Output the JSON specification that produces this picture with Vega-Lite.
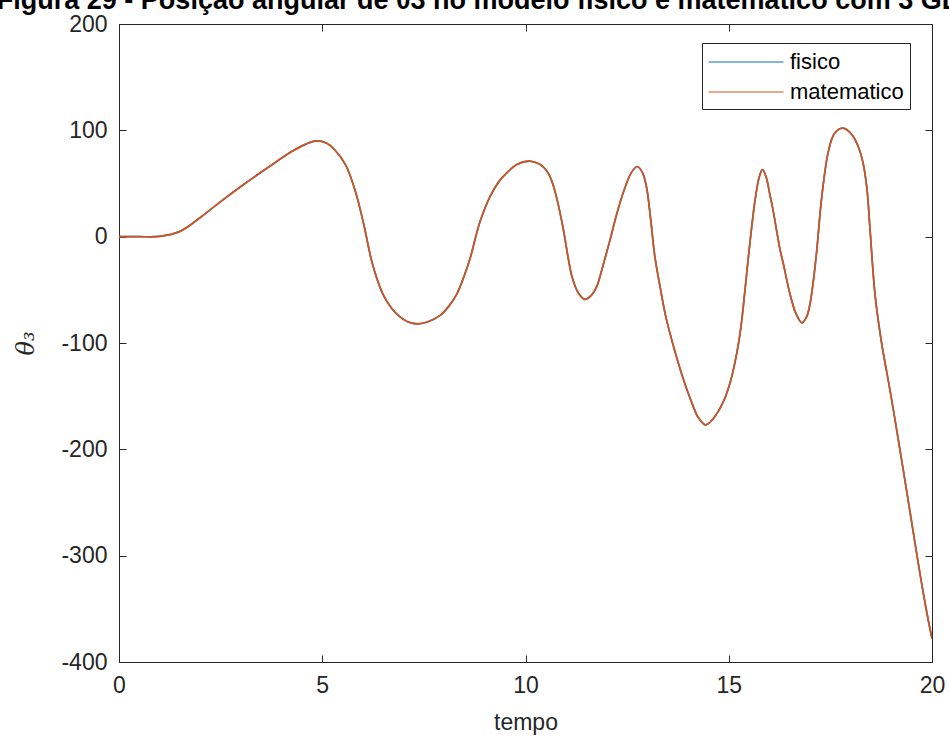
{
  "$schema": "https://vega.github.io/schema/vega-lite/v6.json",
  "width": 813,
  "height": 638,
  "autosize": {"type": "none"},
  "padding": {"left": 119, "top": 24, "right": 17, "bottom": 78},
  "background": "white",
  "config": {
    "view": {"stroke": null},
    "font": "Liberation Sans",
    "axis": {"grid": false, "domainColor": "#262626", "tickColor": "#262626", "labelColor": "#262626", "titleColor": "#262626", "labelFont": "Liberation Sans", "titleFont": "Liberation Sans", "labelFontSize": 23, "titleFontSize": 23, "titleFontWeight": "normal", "tickSize": -7, "domainWidth": 1, "tickWidth": 1, "labelExpr": "toString(datum.value)"}
  },
  "title": {
    "text": "Figura 29 - Posição angular de θ3 no modelo físico e matemático com 3 GL",
    "font": "Liberation Sans",
    "fontSize": 27,
    "fontWeight": "bold",
    "color": "#000000",
    "anchor": "middle",
    "baseline": "alphabetic",
    "offset": -23,
    "dx": -48
  },
  "data": {
    "values": [
      {"t": 0, "fisico": 0, "matematico": 0},
      {"t": 0.5, "fisico": 0, "matematico": 0},
      {"t": 1.0, "fisico": 0.3, "matematico": 0.3},
      {"t": 1.5, "fisico": 5, "matematico": 5},
      {"t": 2.0, "fisico": 18, "matematico": 18},
      {"t": 2.5, "fisico": 33, "matematico": 33},
      {"t": 3.1, "fisico": 50, "matematico": 50},
      {"t": 3.7, "fisico": 66, "matematico": 66},
      {"t": 4.25, "fisico": 80, "matematico": 80},
      {"t": 4.6, "fisico": 87, "matematico": 87},
      {"t": 4.85, "fisico": 90, "matematico": 90},
      {"t": 5.1, "fisico": 88, "matematico": 88},
      {"t": 5.3, "fisico": 82, "matematico": 82},
      {"t": 5.58, "fisico": 67, "matematico": 67},
      {"t": 5.82, "fisico": 42, "matematico": 42},
      {"t": 6.03, "fisico": 10, "matematico": 10},
      {"t": 6.23, "fisico": -25, "matematico": -25},
      {"t": 6.48, "fisico": -53, "matematico": -53},
      {"t": 6.7, "fisico": -67, "matematico": -67},
      {"t": 6.9, "fisico": -75, "matematico": -75},
      {"t": 7.1, "fisico": -80, "matematico": -80},
      {"t": 7.36, "fisico": -82, "matematico": -82},
      {"t": 7.6, "fisico": -80, "matematico": -80},
      {"t": 7.9, "fisico": -74, "matematico": -74},
      {"t": 8.1, "fisico": -66, "matematico": -66},
      {"t": 8.31, "fisico": -54, "matematico": -54},
      {"t": 8.5, "fisico": -36, "matematico": -36},
      {"t": 8.64, "fisico": -20, "matematico": -20},
      {"t": 8.88, "fisico": 14, "matematico": 14},
      {"t": 9.13, "fisico": 38, "matematico": 38},
      {"t": 9.35, "fisico": 52, "matematico": 52},
      {"t": 9.54, "fisico": 60, "matematico": 60},
      {"t": 9.8, "fisico": 68, "matematico": 68},
      {"t": 10.1, "fisico": 71, "matematico": 71},
      {"t": 10.35, "fisico": 68, "matematico": 68},
      {"t": 10.52, "fisico": 62, "matematico": 62},
      {"t": 10.65, "fisico": 52, "matematico": 52},
      {"t": 10.77, "fisico": 36, "matematico": 36},
      {"t": 10.93, "fisico": 7, "matematico": 7},
      {"t": 11.05, "fisico": -20, "matematico": -20},
      {"t": 11.14, "fisico": -37, "matematico": -37},
      {"t": 11.3, "fisico": -53, "matematico": -53},
      {"t": 11.46, "fisico": -59, "matematico": -59},
      {"t": 11.6, "fisico": -56, "matematico": -56},
      {"t": 11.75, "fisico": -47, "matematico": -47},
      {"t": 11.9, "fisico": -28, "matematico": -28},
      {"t": 12.08, "fisico": -3, "matematico": -3},
      {"t": 12.25, "fisico": 22, "matematico": 22},
      {"t": 12.41, "fisico": 42, "matematico": 42},
      {"t": 12.6, "fisico": 60, "matematico": 60},
      {"t": 12.75, "fisico": 66, "matematico": 66},
      {"t": 12.88, "fisico": 60, "matematico": 60},
      {"t": 12.98, "fisico": 46, "matematico": 46},
      {"t": 13.08, "fisico": 16, "matematico": 16},
      {"t": 13.18, "fisico": -18, "matematico": -18},
      {"t": 13.31, "fisico": -47, "matematico": -47},
      {"t": 13.45, "fisico": -75, "matematico": -75},
      {"t": 13.64, "fisico": -103, "matematico": -103},
      {"t": 13.85, "fisico": -130, "matematico": -130},
      {"t": 14.05, "fisico": -152, "matematico": -152},
      {"t": 14.25, "fisico": -170, "matematico": -170},
      {"t": 14.43, "fisico": -177, "matematico": -177},
      {"t": 14.6, "fisico": -172, "matematico": -172},
      {"t": 14.87, "fisico": -155, "matematico": -155},
      {"t": 15.05, "fisico": -135, "matematico": -135},
      {"t": 15.2, "fisico": -109, "matematico": -109},
      {"t": 15.3, "fisico": -85, "matematico": -85},
      {"t": 15.4, "fisico": -50, "matematico": -50},
      {"t": 15.52, "fisico": -6, "matematico": -6},
      {"t": 15.65, "fisico": 35, "matematico": 35},
      {"t": 15.75, "fisico": 56, "matematico": 56},
      {"t": 15.83, "fisico": 63, "matematico": 63},
      {"t": 15.92, "fisico": 56, "matematico": 56},
      {"t": 16.01, "fisico": 40, "matematico": 40},
      {"t": 16.09, "fisico": 25, "matematico": 25},
      {"t": 16.26, "fisico": -12, "matematico": -12},
      {"t": 16.34, "fisico": -25, "matematico": -25},
      {"t": 16.5, "fisico": -53, "matematico": -53},
      {"t": 16.65, "fisico": -72, "matematico": -72},
      {"t": 16.8, "fisico": -81, "matematico": -81},
      {"t": 16.92, "fisico": -75, "matematico": -75},
      {"t": 17.0, "fisico": -63, "matematico": -63},
      {"t": 17.08, "fisico": -42, "matematico": -42},
      {"t": 17.16, "fisico": -15, "matematico": -15},
      {"t": 17.29, "fisico": 38, "matematico": 38},
      {"t": 17.45, "fisico": 80, "matematico": 80},
      {"t": 17.6, "fisico": 97, "matematico": 97},
      {"t": 17.8, "fisico": 102, "matematico": 102},
      {"t": 17.98, "fisico": 98, "matematico": 98},
      {"t": 18.15, "fisico": 88, "matematico": 88},
      {"t": 18.3, "fisico": 70, "matematico": 70},
      {"t": 18.4, "fisico": 45, "matematico": 45},
      {"t": 18.47, "fisico": 10, "matematico": 10},
      {"t": 18.6, "fisico": -55, "matematico": -55},
      {"t": 18.76, "fisico": -100, "matematico": -100},
      {"t": 18.97, "fisico": -145, "matematico": -145},
      {"t": 19.21, "fisico": -200, "matematico": -200},
      {"t": 19.38, "fisico": -240, "matematico": -240},
      {"t": 19.54, "fisico": -278, "matematico": -278},
      {"t": 19.7, "fisico": -316, "matematico": -316},
      {"t": 19.87, "fisico": -353, "matematico": -353},
      {"t": 20.0, "fisico": -378, "matematico": -378}
    ]
  },
  "transform": [{"fold": ["fisico", "matematico"], "as": ["serie", "valor"]}],
  "layer": [
    {
      "mark": {"type": "line", "strokeWidth": 1.7, "interpolate": "catmull-rom", "clip": true},
      "encoding": {
        "x": {"field": "t", "type": "quantitative", "scale": {"domain": [0, 20], "nice": false}, "axis": {"orient": "bottom", "values": [0, 5, 10, 15, 20], "title": "tempo", "labelPadding": 19, "titlePadding": 14, "labelFlush": false}},
        "y": {"field": "valor", "type": "quantitative", "scale": {"domain": [-400, 200], "nice": false}, "axis": {"orient": "left", "values": [-400, -300, -200, -100, 0, 100, 200], "title": "θ₃", "titleFont": "DejaVu Serif", "titleFontStyle": "italic", "titleFontSize": 24, "labelPadding": 19, "titlePadding": 22}},
        "color": {"field": "serie", "type": "nominal", "scale": {"domain": ["fisico", "matematico"], "range": ["#0072BD", "#D95319"]}, "legend": {"title": null, "orient": "none", "legendX": 583, "legendY": 19, "symbolType": "M-3,0H3", "symbolSize": 625, "symbolOffset": 25, "symbolStrokeWidth": 1, "labelFontSize": 22, "labelColor": "#000000", "labelOffset": 31, "padding": 6, "rowPadding": 6, "strokeColor": "#262626", "fillColor": "white"}}
      }
    },
    {
      "mark": {"type": "line", "strokeWidth": 1.5, "opacity": 0},
      "encoding": {
        "x": {"field": "t", "type": "quantitative", "scale": {"domain": [0, 20], "nice": false}, "axis": {"orient": "top", "values": [0, 5, 10, 15, 20], "labels": false, "title": null}},
        "y": {"field": "valor", "type": "quantitative", "scale": {"domain": [-400, 200], "nice": false}, "axis": {"orient": "right", "values": [-400, -300, -200, -100, 0, 100, 200], "labels": false, "title": null}},
        "detail": {"field": "serie"}
      }
    }
  ],
  "resolve": {"axis": {"x": "independent", "y": "independent"}}
}
